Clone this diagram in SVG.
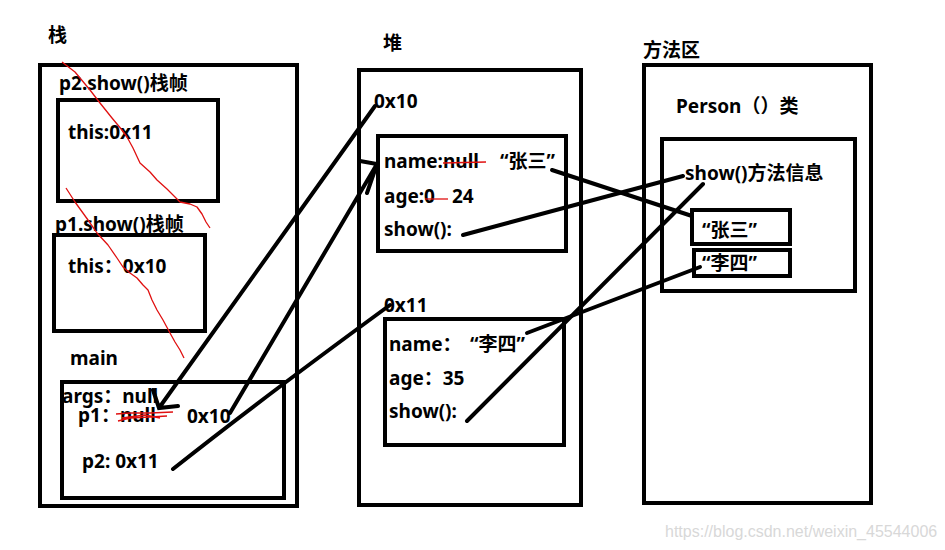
<svg xmlns="http://www.w3.org/2000/svg" width="945" height="550" viewBox="0 0 945 550">
<style>
.t{font-family:"Noto Sans","Noto Sans CJK SC",sans-serif;font-size:19px;font-weight:bold;fill:#000}
.b{fill:none;stroke:#000;stroke-width:4}
.c{fill:none;stroke:#000;stroke-width:4;stroke-linecap:round}
.r{fill:none;stroke:#e01010;stroke-width:1.3;stroke-linejoin:round}
.w{font-family:"Liberation Sans",Arial,sans-serif;font-size:16px;fill:#d8d8d8}
</style>
<rect width="945" height="550" fill="#fff"/>
<g id="stack">
<text class="t" x="48" y="42">栈</text>
<rect class="b" x="40" y="65" width="257" height="441"/>
</g>
<g id="p2frame">
<text class="t" x="59" y="90">p2.show()栈帧</text>
<rect class="b" x="58" y="100" width="160" height="101"/>
<text class="t" x="68" y="139">this:0x11</text>
</g>
<g id="p1frame">
<text class="t" x="55" y="231">p1.show()栈帧</text>
<rect class="b" x="54" y="235" width="151" height="96"/>
<text class="t" x="68" y="273">this：0x10</text>
</g>
<g id="main">
<text class="t" x="70" y="365">main</text>
<rect class="b" x="62" y="382" width="222" height="116"/>
<text class="t" x="62" y="403">args：null</text>
<text class="t" x="78" y="422">p1：null</text>
<text class="t" x="187" y="423">0x10</text>
<text class="t" x="82" y="468">p2: 0x11</text>
</g>
<g id="heap">
<text class="t" x="383" y="50">堆</text>
<rect class="b" x="359" y="70" width="222" height="435"/>
</g>
<g id="obj1">
<text class="t" x="374" y="108">0x10</text>
<rect class="b" x="378" y="136" width="188" height="115"/>
<text class="t" x="384" y="168">name:null</text>
<text class="t" x="500" y="168">“张三”</text>
<text class="t" x="384" y="203">age:0</text>
<text class="t" x="452" y="203">24</text>
<text class="t" x="384" y="236">show():</text>
</g>
<g id="obj2">
<text class="t" x="384" y="312">0x11</text>
<rect class="b" x="385" y="319" width="179" height="126"/>
<text class="t" x="389" y="351">name：</text>
<text class="t" x="470" y="351">“李四”</text>
<text class="t" x="389" y="385">age：35</text>
<text class="t" x="389" y="418">show():</text>
</g>
<g id="methodArea">
<text class="t" x="643" y="57">方法区</text>
<rect class="b" x="644" y="65" width="227" height="438"/>
</g>
<g id="personClass">
<text class="t" x="676" y="113">Person（）类</text>
<rect class="b" x="662" y="139" width="193" height="152"/>
<text class="t" x="685" y="180">show()方法信息</text>
</g>
<g id="strZhang">
<rect class="b" x="692" y="210" width="98" height="34"/>
<text class="t" x="702" y="237">“张三”</text>
</g>
<g id="strLi">
<rect class="b" x="694" y="250" width="96" height="26"/>
<text class="t" x="702" y="270">“李四”</text>
</g>
<g id="connectors">
<path class="c" d="M375,106 L159,408 M178,406 L159,408 L153,390"/>
<path class="c" d="M230,413 L377,164 M360,161 L377,164 L367,193"/>
<path class="c" d="M173,469 Q260,400 390,305"/>
<path class="c" d="M552,170 L692,216"/>
<path class="c" d="M463,235 L683,176"/>
<path class="c" d="M467,421 L703,184"/>
<path class="c" d="M527,333 L700,267"/>
</g>
<g id="redMarks">
<path class="r" d="M62,62 L75,72 L90,90 L100,103 L112,118 L122,130 L127,137 L133,148 L140,163 L150,172 L157,180 L167,189 L180,202 L190,204 L197,207 L202,214 L206,222 L210,228"/>
<path class="r" d="M66,188 L75,202 L88,220 L97,233 L108,245 L117,258 L123,267 L130,273 L137,278 L143,285 L148,290 L152,300 L157,310 L163,320 L170,333 L175,342 L180,350 L184,358"/>
<path class="r" d="M116,414 L130,413 L150,413 L173,412 M118,421 L130,418 L150,417 L167,416 M122,418 L145,415 L160,418"/>
<path class="r" d="M443,163 L486,162"/>
<path class="r" d="M425,199 L448,199"/>
</g>
<text class="w" x="665" y="537">https://blog.csdn.net/weixin_45544006</text>
</svg>
